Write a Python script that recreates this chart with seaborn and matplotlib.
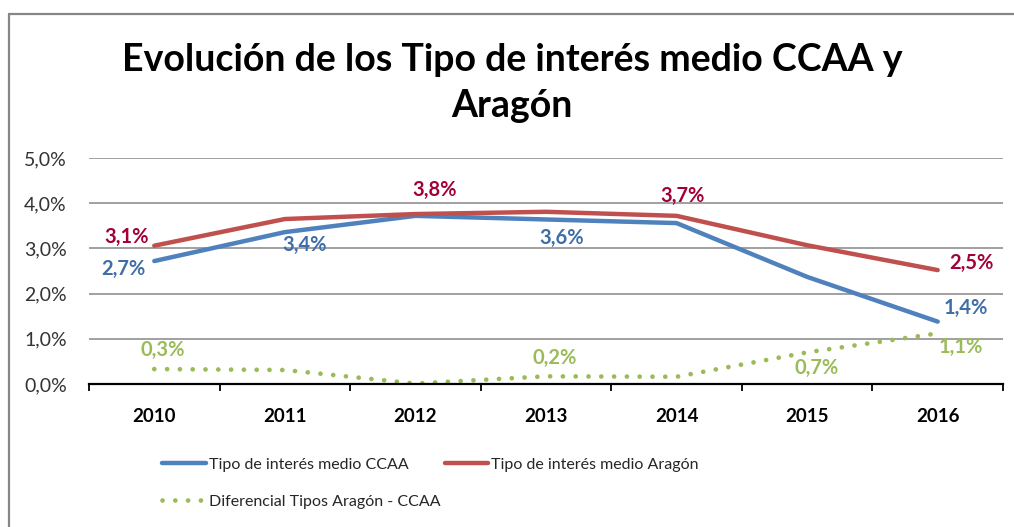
import numpy as np
import pandas as pd
import matplotlib
matplotlib.use("Agg")
import matplotlib.pyplot as plt
from matplotlib.lines import Line2D
import seaborn as sns

# data (fractions, shown as %)
years = ['2010', '2011', '2012', '2013', '2014', '2015', '2016']
ccaa = [0.0272, 0.0336, 0.0372, 0.0364, 0.0356, 0.0237, 0.0138]
aragon = [0.0306, 0.0365, 0.0376, 0.0381, 0.0372, 0.0307, 0.0252]
diferencial = [0.0033, 0.0031, 0.0001, 0.0017, 0.0016, 0.0070, 0.0112]
yticks = [0.0, 0.01, 0.02, 0.03, 0.04, 0.05]

# which points carry a label, and where the label sits (offset in points)
ccaa_labels = {0: (-22, -6), 1: (14, -9), 3: (11, -13), 6: (20, 10)}
aragon_labels = {0: (-20, 6.5), 2: (14, 17), 4: (4, 14), 6: (24, 5)}
dif_labels = {0: (6, 14), 3: (6, 13), 5: (6.5, -11.5), 6: (17, -10)}

sns.set_theme(style="white")
plt.rcParams['font.family'] = ['Lato', 'DejaVu Sans']

blue, red, green = '#4F81BD', '#C0504D', '#9BBB59'
blue_txt, red_txt, green_txt = '#3F6DA8', '#A3003A', '#9BBB59'

df = pd.DataFrame({'x': np.arange(len(years)), 'ccaa': ccaa,
                   'aragon': aragon, 'dif': diferencial})

fig = plt.figure(figsize=(10.14, 5.27), dpi=100)
ax = fig.add_axes([89 / 1014, 1 - 384 / 527, (1003 - 89) / 1014, (384 - 158) / 527])

sns.lineplot(data=df, x='x', y='ccaa', ax=ax, color=blue, lw=3.2,
             solid_capstyle='round', label='Tipo de interés medio CCAA')
sns.lineplot(data=df, x='x', y='aragon', ax=ax, color=red, lw=3.2,
             solid_capstyle='round', label='Tipo de interés medio Aragón')
sns.lineplot(data=df, x='x', y='dif', ax=ax, color=green, lw=3.4,
             label='Diferencial Tipos Aragón - CCAA')
ax.lines[2].set_linestyle((0, (0.01, 2.7)))
ax.lines[2].set_dash_capstyle('round')


def fmt(v):
    return f"{v * 100:.1f}%".replace('.', ',')


for vals, labs, col in [(ccaa, ccaa_labels, blue_txt),
                        (aragon, aragon_labels, red_txt),
                        (diferencial, dif_labels, green_txt)]:
    for i, off in labs.items():
        ax.annotate(fmt(vals[i]), (i, vals[i]), xytext=off, textcoords='offset points',
                    ha='center', va='center', fontsize=14.5, fontweight='bold', color=col)

ax.set_xlim(-0.5, len(years) - 0.5)
ax.set_ylim(0, 0.05)
ax.set_yticks(yticks)
ax.set_yticklabels([fmt(v) for v in yticks])
ax.set_xticks(np.arange(len(years)))
ax.set_xticklabels(years, fontweight='bold')
ax.set_xticks(np.arange(len(years) + 1) - 0.5, minor=True)
ax.tick_params(axis='x', which='major', length=0, pad=17, labelsize=13.5, labelcolor='black')
ax.tick_params(axis='x', which='minor', length=5, width=1.3, color='black', direction='out',
               bottom=True)
ax.tick_params(axis='y', length=0, pad=16, labelsize=14, labelcolor='#333333')
ax.set_xlabel('')
ax.set_ylabel('')
ax.grid(axis='y', color='#868686', lw=1.1)
ax.set_axisbelow(True)
for s in ['left', 'right', 'top']:
    ax.spines[s].set_visible(False)
ax.spines['bottom'].set_color('black')
ax.spines['bottom'].set_linewidth(1.6)

# legend: rows CCAA | Aragón, then Diferencial
h, l = ax.get_legend_handles_labels()
ax.legend([h[0], h[2], h[1]], [l[0], l[2], l[1]], ncol=2, loc='upper left',
          bbox_to_anchor=(156 / 1014, 1 - 451 / 527), bbox_transform=fig.transFigure,
          frameon=False, fontsize=11.5, handlelength=2.7, handletextpad=0.2,
          borderaxespad=0, columnspacing=0.3, labelspacing=1.45, labelcolor='#262626')

fig.text(0.505, 1 - 43 / 527, 'Evolución de los Tipo de interés medio CCAA y\nAragón',
         ha='center', va='top', fontsize=27, fontweight='bold', color='black',
         linespacing=1.42)

# chart frame (only top and left edges fall inside the picture)
fig.add_artist(Line2D([9 / 1014, 1.1], [1 - 14 / 527] * 2, transform=fig.transFigure,
                      color='#868686', lw=1.6))
fig.add_artist(Line2D([9 / 1014] * 2, [-0.1, 1 - 14 / 527], transform=fig.transFigure,
                      color='#868686', lw=1.6))

fig.savefig('out.png', dpi=100)
